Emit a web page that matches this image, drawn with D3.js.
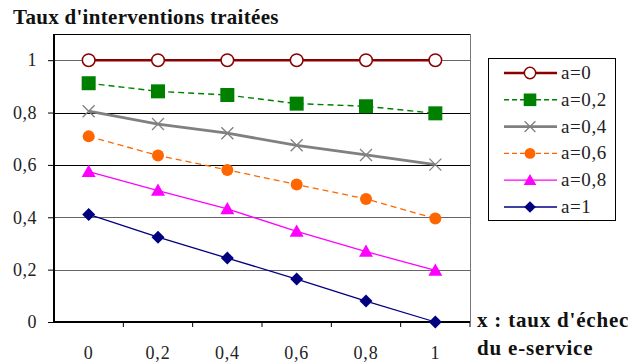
<!DOCTYPE html>
<html><head><meta charset="utf-8">
<script src="https://cdn.jsdelivr.net/npm/d3@7"></script>
<style>body{margin:0;background:#fff}svg{display:block}</style>
</head><body>
<svg id="c" width="633" height="362" font-family="Liberation Serif"></svg>
<script>
const FONT = '"Liberation Serif"';
const categories = ["0","0,2","0,4","0,6","0,8","1"];
const yTicks = [0,0.2,0.4,0.6,0.8,1];
const yTickLabels = ["0","0,2","0,4","0,6","0,8","1"];
const seriesNames = ["a=0","a=0,2","a=0,4","a=0,6","a=0,8","a=1"];
const a0  = [1,1,1,1,1,1];
const a02 = [0.912,0.881,0.867,0.834,0.824,0.797];
const a04 = [0.805,0.756,0.721,0.675,0.638,0.601];
const a06 = [0.709,0.636,0.581,0.525,0.470,0.395];
const a08 = [0.574,0.502,0.432,0.346,0.269,0.197];
const a1  = [0.411,0.324,0.244,0.164,0.080,0.000];

const styles = [
  {color:"#8B0000", width:2.6, dash:null, marker:"ocircle"},
  {color:"#008000", width:1.4, dash:"6,4", marker:"square"},
  {color:"#808080", width:2.8, dash:null, marker:"x"},
  {color:"#FF6600", width:1.3, dash:"6,4", marker:"circle"},
  {color:"#FF00FF", width:1.3, dash:null, marker:"triangle"},
  {color:"#000080", width:1.3, dash:null, marker:"diamond"}
];
const series = [a0,a02,a04,a06,a08,a1].map((v,i)=>({name:seriesNames[i], values:v, ...styles[i]}));

const svg = d3.select("#c");
const L=54, R=470, T=34, B=322;
const x = d3.scalePoint().domain(categories).range([L,R]).padding(0.5);
const xb = d3.scaleBand().domain(categories).range([L,R]);
const y = d3.scaleLinear().domain([0,1.1]).range([B,T]);
const setFont = (sel,size,bold,ls) => sel.attr("font-family","Liberation Serif").style("font-family",FONT)
  .attr("font-size",size).style("font-size",size+"px").attr("font-weight",bold?"bold":null).style("font-weight",bold?"bold":null)
  .style("letter-spacing",ls?ls+"px":null);

// gridlines
svg.append("g").selectAll("line").data(yTicks.filter(d=>d>0)).join("line")
  .attr("x1",L).attr("x2",R).attr("y1",d=>Math.round(y(d))+0.5).attr("y2",d=>Math.round(y(d))+0.5)
  .attr("stroke",d=>(d===0.8||d===0.6)?"#000":"#666").attr("stroke-width",1);
// border top/right
svg.append("line").attr("x1",L).attr("x2",R+0.5).attr("y1",T+0.5).attr("y2",T+0.5).attr("stroke","#000");
svg.append("line").attr("x1",R+0.5).attr("x2",R+0.5).attr("y1",T).attr("y2",B).attr("stroke","#777");

// y axis
const ya = d3.axisLeft(y).tickValues(yTicks).tickFormat((d,i)=>yTickLabels[i]).tickSize(6).tickPadding(11);
const yg = svg.append("g").attr("transform",`translate(${L},0)`).call(ya);
yg.attr("font-family","Liberation Serif").attr("font-size",18);
yg.select(".domain").attr("stroke","#000").attr("stroke-width",2).attr("d",`M0,${T}V${B}`);
yg.selectAll(".tick line").attr("stroke","#000");
yg.selectAll("text").call(setFont,18,false,0.5).attr("fill","#222");

// x axis
const xa = d3.axisBottom(xb).tickSize(0).tickPadding(24);
const xg = svg.append("g").attr("transform",`translate(0,${B})`).call(xa);
xg.attr("font-family","Liberation Serif").attr("font-size",18);
xg.select(".domain").attr("stroke","#000").attr("stroke-width",2).attr("d",`M${L},0H${R}`);
xg.selectAll("text").call(setFont,18,false,0.8).attr("fill","#222");
xg.append("g").selectAll("line").data(categories.slice(1).concat(["__end"])).join("line")
  .attr("x1",d=>d==="__end"?R:xb(d)).attr("x2",d=>d==="__end"?R:xb(d)).attr("y1",0).attr("y2",5).attr("stroke","#000");

function drawMarker(g, type, color, cx, cy, s){
  if(type==="ocircle") g.append("circle").attr("cx",cx).attr("cy",cy).attr("r",6.3*s).attr("fill","#fff").attr("stroke",color).attr("stroke-width",1.5);
  else if(type==="circle") g.append("circle").attr("cx",cx).attr("cy",cy).attr("r",6*s).attr("fill",color);
  else if(type==="square") g.append("rect").attr("x",cx-7*s).attr("y",cy-7*s).attr("width",14*s).attr("height",14*s).attr("fill",color);
  else if(type==="x"){ const h=6*s; g.append("path").attr("d",`M${cx-h},${cy-h}L${cx+h},${cy+h}M${cx-h},${cy+h}L${cx+h},${cy-h}`).attr("stroke",color).attr("stroke-width",1.3).attr("fill","none");}
  else if(type==="triangle"){ const h=7*s; g.append("path").attr("d",`M${cx},${cy-h}L${cx+h},${cy+h*0.75}L${cx-h},${cy+h*0.75}Z`).attr("fill",color);}
  else if(type==="diamond"){ const h=6.5*s; g.append("path").attr("d",`M${cx},${cy-h}L${cx+h},${cy}L${cx},${cy+h}L${cx-h},${cy}Z`).attr("fill",color);}
}

const line = d3.line().x((d,i)=>x(categories[i])).y(d=>y(d));
series.forEach(s=>{
  const g = svg.append("g");
  g.append("path").attr("d",line(s.values)).attr("fill","none").attr("stroke",s.color)
    .attr("stroke-width",s.width).attr("stroke-dasharray",s.dash);
  s.values.forEach((v,i)=>drawMarker(g,s.marker,s.color,x(categories[i]),y(v),1));
});

// legend
const lg = svg.append("g");
lg.append("rect").attr("x",488.5).attr("y",58.5).attr("width",127).attr("height",162).attr("fill","#fff").attr("stroke","#000").attr("stroke-width",1);
series.forEach((s,i)=>{
  const cy = 73 + i*26.8;
  lg.append("line").attr("x1",504).attr("x2",557).attr("y1",cy).attr("y2",cy).attr("stroke",s.color)
    .attr("stroke-width",s.width).attr("stroke-dasharray",s.dash?"5,3":null);
  drawMarker(lg,s.marker,s.color,530,cy,0.9);
  lg.append("text").attr("x",561).attr("y",cy+6).call(setFont,19,false,0.6).attr("fill","#222").text(s.name);
});

// titles
svg.append("text").attr("x",13).attr("y",24).call(setFont,21,true,0.3).attr("fill","#111").text("Taux d'interventions traitées");
svg.append("text").attr("x",477).attr("y",327).call(setFont,21,true,0.8).attr("fill","#111").text("x : taux d'échec");
svg.append("text").attr("x",477).attr("y",355).call(setFont,21,true,0.8).attr("fill","#111").text("du e-service");
</script>
</body></html>
